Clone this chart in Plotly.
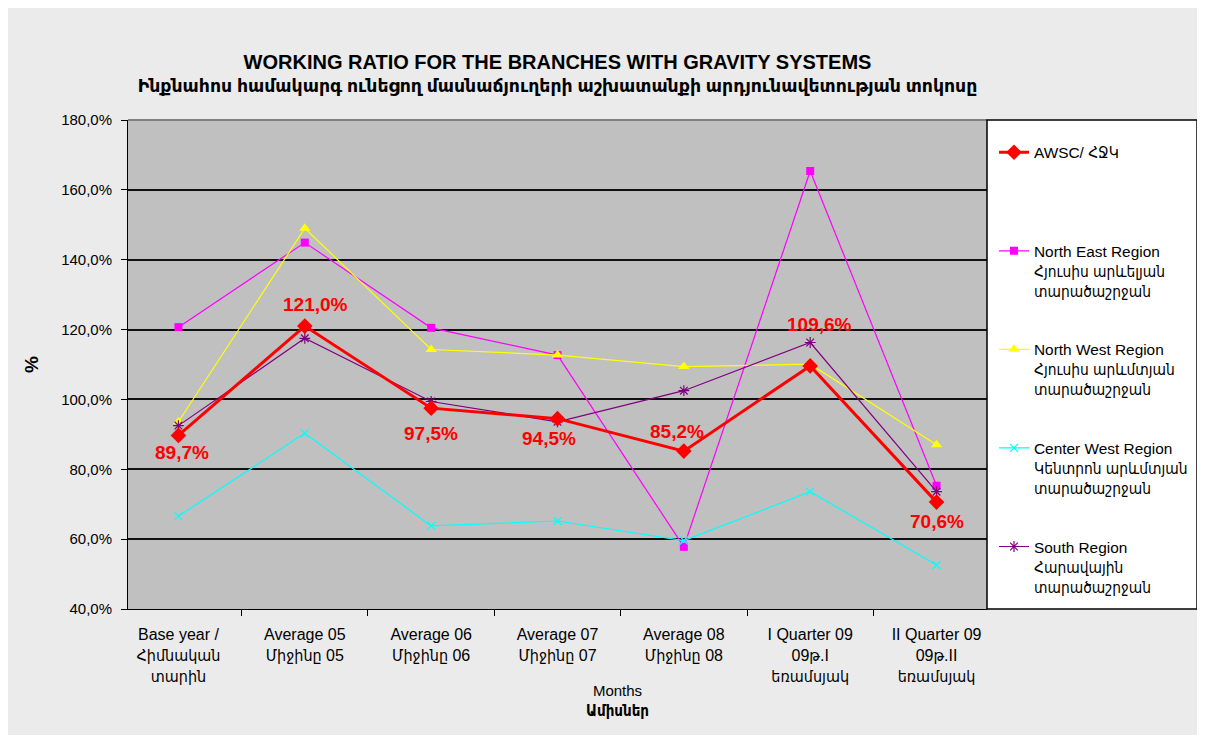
import plotly.graph_objects as go

categories = [
    "Base year /<br>Հիմնական<br>տարին",
    "Average 05<br>Միջինը 05",
    "Average 06<br>Միջինը 06",
    "Average 07<br>Միջինը 07",
    "Average 08<br>Միջինը 08",
    "I Quarter 09<br>09թ.I<br>եռամսյակ",
    "II Quarter 09<br>09թ.II<br>եռամսյակ",
]

awsc = [89.7, 121.0, 97.5, 94.5, 85.2, 109.6, 70.6]
north_east = [120.7, 144.9, 120.5, 112.7, 57.8, 165.4, 75.3]
north_west = [93.6, 149.0, 114.3, 112.7, 109.4, 110.1, 87.0]
center_west = [66.6, 90.3, 63.8, 65.2, 59.6, 73.6, 52.6]
south = [92.5, 117.5, 99.4, 93.6, 102.5, 116.3, 73.6]

names = [
    "AWSC/ ՀՋԿ<br> <br> ",
    "North East Region<br>Հյուսիս արևելյան<br>տարածաշրջան",
    "North West Region<br>Հյուսիս արևմտյան<br>տարածաշրջան",
    "Center West Region<br>Կենտրոն արևմտյան<br>տարածաշրջան",
    "South Region<br>Հարավային<br>տարածաշրջան",
]

# label offsets (pixels) for the AWSC data labels
label_dx = [4, 11, 0, -9, -7, 9, 0]
label_dy = [-17, 22, -25, -20, 20, 41, -19]

FONT = "Liberation Sans, Arial, DejaVu Sans Condensed, DejaVu Sans, sans-serif"
TFONT = "Liberation Sans, Arial, DejaVu Sans, sans-serif"

fig = go.Figure()

fig.add_trace(go.Scatter(
    x=categories, y=north_east, name=names[1], mode="lines+markers",
    line=dict(color="#FF00FF", width=1.2),
    marker=dict(symbol="square", size=8, color="#FF00FF"),
    legendgroup="ne", legendrank=2,
))
fig.add_trace(go.Scatter(
    x=categories, y=north_west, name=names[2], mode="lines+markers",
    line=dict(color="#FFFF00", width=1.2),
    marker=dict(symbol="triangle-up", size=10, color="#FFFF00"),
    legendgroup="nw", legendrank=3,
))
fig.add_trace(go.Scatter(
    x=categories, y=center_west, name=names[3], mode="lines+markers",
    line=dict(color="#00FFFF", width=1.2),
    marker=dict(symbol="x-thin-open", size=8, color="#00FFFF", line=dict(color="#00FFFF", width=1.2)),
    legendgroup="cw", legendrank=4,
))
fig.add_trace(go.Scatter(
    x=categories, y=south, name=names[4], mode="lines+markers",
    line=dict(color="#800080", width=1.2),
    marker=dict(symbol="asterisk-open", size=9, color="#800080", line=dict(color="#800080", width=1.2)),
    legendgroup="s", legendrank=5,
))
fig.add_trace(go.Scatter(
    x=categories, y=awsc, name=names[0], mode="lines+markers",
    line=dict(color="#FF0000", width=3),
    marker=dict(symbol="diamond", size=12, color="#FF0000"),
    legendgroup="a", legendrank=1,
))

for c, v, dx, dy in zip(categories, awsc, label_dx, label_dy):
    fig.add_annotation(
        x=c, y=v, xref="x", yref="y", text=f"<b>{v:.1f}%</b>".replace(".", ","),
        showarrow=False, xshift=dx, yshift=dy, xanchor="center", yanchor="middle",
        font=dict(color="#FF0000", size=19, family=TFONT),
    )

fig.add_annotation(
    x=0.570, y=-0.188, xref="paper", yref="paper", showarrow=False,
    text="Months<br><b>Ամիսներ</b>", xanchor="center", yanchor="middle",
    font=dict(size=15, family=FONT, color="#000000"),
)

fig.update_layout(
    width=1197, height=727,
    margin=dict(l=120, r=218, t=112, b=126),
    paper_bgcolor="#EBEBEB",
    plot_bgcolor="#C0C0C0",
    separators=", ",
    font=dict(family=FONT, color="#000000", size=14),
    title=dict(
        text="<b><span style='font-size:20px'>WORKING RATIO FOR THE BRANCHES WITH GRAVITY SYSTEMS</span><br>Ինքնահոս համակարգ ունեցող մասնաճյուղերի աշխատանքի արդյունավետության տոկոսը</b>",
        x=0.5, xref="paper", xanchor="center",
        y=0.9155, yref="container", yanchor="middle",
        font=dict(family=TFONT, size=17.3, color="#000000"),
    ),
    showlegend=True,
    legend=dict(
        x=0.8279, xref="container", xanchor="left",
        y=0.8243, yref="container", yanchor="top",
        bgcolor="rgba(0,0,0,0)", borderwidth=0, maxheight=650, indentation=-5,
        font=dict(family=FONT, size=15.4, color="#000000"),
        tracegroupgap=35.5, valign="top", traceorder="grouped",
    ),
    xaxis=dict(
        type="category", tickson="boundaries", ticks="outside", ticklen=6,
        tickcolor="#000000", showgrid=False, showline=True, linecolor="#000000",
        linewidth=1, mirror=False, ticklabelstandoff=11,
        tickfont=dict(size=16, family=FONT),
    ),
    yaxis=dict(
        range=[40, 180], dtick=20, tickformat=".1f", ticksuffix="%",
        ticks="outside", ticklen=6, tickcolor="#000000",
        showgrid=True, gridcolor="#111111", gridwidth=1.5,
        showline=True, linecolor="#000000", linewidth=1,
        zeroline=False, ticklabelstandoff=6,
        tickfont=dict(size=15, family=FONT),
        title=dict(text="<b>%</b>", standoff=17, font=dict(size=19, family=FONT)),
    ),
)

# plot-area top border and legend box
fig.add_shape(type="line", xref="paper", yref="paper", x0=0, x1=1, y0=1, y1=1,
              line=dict(color="#808080", width=2))
fig.add_shape(type="rect", xref="paper", yref="paper", x0=1.0, x1=1.2445, y0=0, y1=1,
              fillcolor="#FFFFFF", line=dict(color="#000000", width=1.5), layer="above")

fig.write_html("out.html")
